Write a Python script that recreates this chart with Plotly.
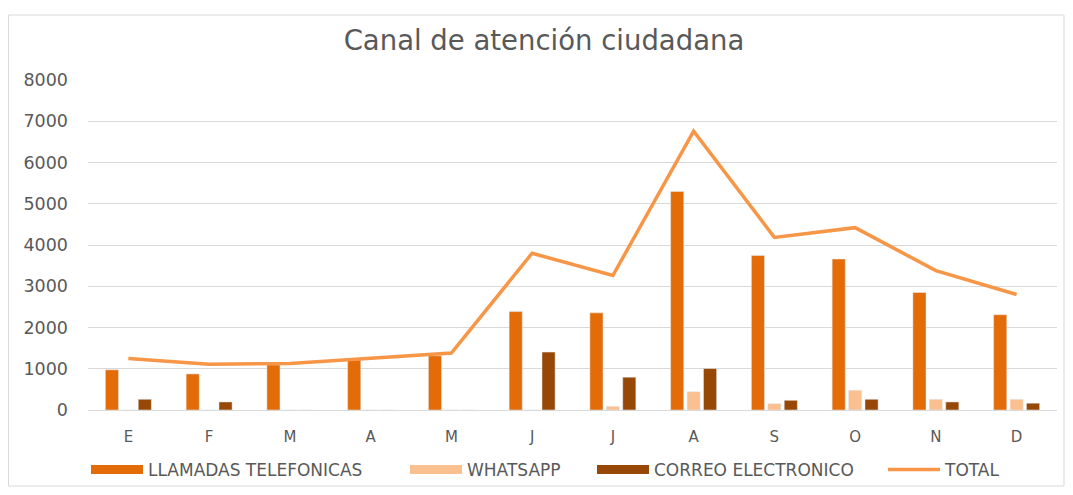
import plotly.graph_objects as go

months = ["E", "F", "M", "A", "M", "J", "J", "A", "S", "O", "N", "D"]
llamadas = [975, 875, 1095, 1215, 1315, 2385, 2355, 5300, 3745, 3660, 2850, 2310]
whatsapp = [0, 0, 0, 0, 0, 0, 90, 445, 155, 480, 260, 260]
correo = [260, 195, 0, 0, 0, 1405, 795, 1005, 235, 260, 195, 165]
total = [1250, 1110, 1130, 1255, 1380, 3800, 3260, 6760, 4185, 4420, 3380, 2800]
y_ticks = [0, 1000, 2000, 3000, 4000, 5000, 6000, 7000, 8000]

names = ["LLAMADAS TELEFONICAS", "WHATSAPP", "CORREO ELECTRONICO", "TOTAL"]
colors = ["#E36C09", "#FAC090", "#974806", "#F79646"]

x = list(range(len(months)))
FONT = "DejaVu Sans, sans-serif"
TXT = "#595959"

# page offset (default body margin) and geometry in screenshot pixels
OFF = 8
W, H = 1073 - 2 * OFF, 495 - 2 * OFF   # keep page inside the window
PL, PR, PT, PB = 88, 1057, 80, 410      # plot area in screenshot coords
L, T = PL - OFF, PT - OFF
R, B = W - (PR - OFF), H - (PB - OFF)
pw, ph = PR - PL, PB - PT

def px(v):
    return (v - PL) / pw

def py(v):
    return (PB - v) / ph

def cx(v):
    return (v - OFF) / W

def cy(v):
    return 1 - (v - OFF) / H

fig = go.Figure()
for vals, nm, col in zip([llamadas, whatsapp, correo], names[:3], colors[:3]):
    fig.add_trace(go.Bar(x=x, y=vals, name=nm, marker_color=col, showlegend=False))
fig.add_trace(go.Scatter(x=x, y=total, name=names[3], mode="lines",
                         line=dict(color=colors[3], width=3.5), showlegend=False))

# legend entries (one legend per entry so they sit where the original places them)
legend_x = [86, 405, 592, 883]
legend_keys = ["legend", "legend2", "legend3", "legend4"]
legend_layout = {}
for i, (nm, col) in enumerate(zip(names, colors)):
    w = 9 if i < 3 else 3.5
    fig.add_trace(go.Scatter(x=[None], y=[None], mode="lines", name=nm,
                             line=dict(color=col, width=w), legend=legend_keys[i],
                             showlegend=True))
    legend_layout[legend_keys[i]] = dict(
        xref="container", yref="container",
        x=cx(legend_x[i]), xanchor="left", y=cy(470), yanchor="middle",
        orientation="h", itemwidth=52, bgcolor="rgba(0,0,0,0)",
        font=dict(size=17, color=TXT, family=FONT))

fig.update_layout(
    width=W, height=H,
    margin=dict(l=L, r=R, t=T, b=B, autoexpand=False),
    paper_bgcolor="white", plot_bgcolor="white",
    font=dict(family=FONT, color=TXT, size=15),
    title=dict(text="Canal de atención ciudadana", xref="container",
               x=cx(544), xanchor="center",
               yref="container", y=cy(40), yanchor="middle",
               font=dict(size=27.5, color=TXT, family=FONT)),
    barmode="group", bargap=0.39, bargroupgap=0.2,
    showlegend=True,
    xaxis=dict(tickmode="array", tickvals=x, ticktext=months, range=[-0.5, 11.5],
               showgrid=False, showline=True, linecolor="#D9D9D9", linewidth=1,
               ticks="", ticklabelstandoff=13, tickfont=dict(size=15, color=TXT)),
    yaxis=dict(range=[0, 8000], tickvals=y_ticks, showgrid=True, gridcolor="#D9D9D9",
               gridwidth=1, zeroline=False, showline=False, ticks="",
               ticklabelstandoff=19, tickfont=dict(size=17.5, color=TXT)),
    shapes=[dict(type="rect", xref="paper", yref="paper",
                 x0=px(8.5), x1=px(OFF + W - 1), y0=py(OFF + H - 1), y1=py(15),
                 line=dict(color="#D9D9D9", width=1), fillcolor="rgba(0,0,0,0)", layer="below")],
    **legend_layout,
)

fig.write_html("out.html")
